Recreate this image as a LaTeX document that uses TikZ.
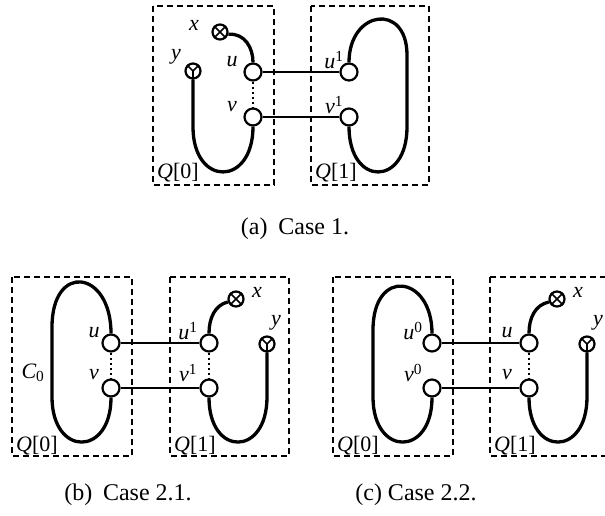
\documentclass[tikz,border=0pt]{standalone}
\usepackage{fontspec}
\setmainfont{Liberation Serif}
\begin{document}
\begin{tikzpicture}[x=1pt,y=-1pt,
  vtx/.style={circle, draw, line width=2.2pt, fill=white, minimum size=17pt, inner sep=0pt},
  term/.style={circle, draw, line width=2.2pt, fill=white, minimum size=15pt, inner sep=0pt},
  lbl/.style={font=\fontsize{22}{26}\selectfont\itshape, inner sep=0pt},
  captext/.style={font=\fontsize{24}{28}\selectfont, inner sep=0pt},
  edgeline/.style={line width=3.3pt},
  link/.style={line width=2.8pt},
  qbox/.style={line width=1.7pt, dash pattern=on 6pt off 4pt},
  dotline/.style={line width=2.4pt, dash pattern=on 2pt off 3pt},
  cross/.style={line width=1.6pt}]
\useasboundingbox (0,0) rectangle (605,515);
\clip (0,0) rectangle (605,515);

% ---------------- (a) ----------------
\draw[qbox] (153,6) rectangle (274,185);
\draw[qbox] (311,6) rectangle (429,185);
\node[vtx] (au) at (253,72) {};
\node[vtx] (av) at (253,117) {};
\node[vtx] (au1) at (349,72) {};
\node[vtx] (av1) at (349,117) {};
\node[term] (ax) at (220,32) {};
\node[term] (ay) at (193,71) {};
\draw[cross] (ax.45) -- (ax.225) (ax.135) -- (ax.315);
\draw[cross] (ay.135) -- (ay.center) -- (ay.45) (ay.center) -- (ay.south);
\draw[edgeline] (ax.-15) .. controls (245,33) and (253,48) .. (au.north);
\draw[edgeline] (ay.south) -- (193,127) .. controls (193,187) and (253,187) .. (av.south);
\draw[edgeline] (au1.north) .. controls (349,10) and (407,2) .. (407,55) -- (407,127)
   .. controls (407,187) and (349,187) .. (av1.south);
\draw[link] (au) -- (au1);
\draw[link] (av) -- (av1);
\draw[dotline] (au.south) -- (av.north);
\node[lbl] (axl) at (194,25) {x};
\node[lbl] (ayl) at (176,57) {y};
\node[lbl] (aul) at (232,62) {u};
\node[lbl] (avl) at (232,107) {v};
\node[lbl] (au1l) at (334,60) {u\textsuperscript{\upshape 1}};
\node[lbl] (av1l) at (334,105) {v\textsuperscript{\upshape 1}};
\node[lbl] (aq0) at (178,173) {Q\upshape[0]};
\node[lbl] (aq1) at (336,173) {Q\upshape[1]};
\node[captext] (acap) at (295,229) {(a)\hspace{0.45em}Case 1.};

% ---------------- (b) ----------------
\draw[qbox] (12,277) rectangle (132,456);
\draw[qbox] (170,277) rectangle (289,456);
\node[vtx] (bu) at (111,343) {};
\node[vtx] (bv) at (111,388) {};
\node[vtx] (bu1) at (209,343) {};
\node[vtx] (bv1) at (209,388) {};
\node[term] (bx) at (236,299) {};
\node[term] (by) at (267,344) {};
\draw[cross] (bx.45) -- (bx.225) (bx.135) -- (bx.315);
\draw[cross] (by.135) -- (by.center) -- (by.45) (by.center) -- (by.south);
\draw[edgeline] (bu.north) .. controls (111,270) and (52,262) .. (52,327) -- (52,397)
   .. controls (52,457) and (111,457) .. (bv.south);
\draw[edgeline] (bx.200) .. controls (215,305) and (209,318) .. (bu1.north);
\draw[edgeline] (by.south) -- (267,397) .. controls (267,457) and (209,457) .. (bv1.south);
\draw[link] (bu) -- (bu1);
\draw[link] (bv) -- (bv1);
\draw[dotline] (bu.south) -- (bv.north);
\draw[dotline] (bu1.south) -- (bv1.north);
\node[lbl] (bxl) at (257,292) {x};
\node[lbl] (byl) at (276,323) {y};
\node[lbl] (bul) at (94,333) {u};
\node[lbl] (bvl) at (94,375) {v};
\node[lbl] (bu1l) at (188,331) {u\textsuperscript{\upshape 1}};
\node[lbl] (bv1l) at (188,373) {v\textsuperscript{\upshape 1}};
\node[lbl] (bc0) at (33,373) {C\textsubscript{\upshape 0}};
\node[lbl] (bq0) at (37,446) {Q\upshape[0]};
\node[lbl] (bq1) at (195,446) {Q\upshape[1]};
\node[captext] (bcap) at (128,495) {(b)\hspace{0.45em}Case 2.1.};

% ---------------- (c) ----------------
\draw[qbox] (333,277) rectangle (453,456);
\draw[qbox] (490,277) rectangle (609,456);
\node[vtx] (cu0) at (432,343) {};
\node[vtx] (cv0) at (432,388) {};
\node[vtx] (cu) at (529,343) {};
\node[vtx] (cv) at (529,388) {};
\node[term] (cx) at (557,299) {};
\node[term] (cy) at (587,344) {};
\draw[cross] (cx.45) -- (cx.225) (cx.135) -- (cx.315);
\draw[cross] (cy.135) -- (cy.center) -- (cy.45) (cy.center) -- (cy.south);
\draw[edgeline] (cu0.north) .. controls (432,275) and (373,267) .. (373,330) -- (373,397)
   .. controls (373,457) and (432,457) .. (cv0.south);
\draw[edgeline] (cx.200) .. controls (535,305) and (529,318) .. (cu.north);
\draw[edgeline] (cy.south) -- (587,397) .. controls (587,457) and (529,457) .. (cv.south);
\draw[link] (cu0) -- (cu);
\draw[link] (cv0) -- (cv);
\draw[dotline] (cu.south) -- (cv.north);
\node[lbl] (cxl) at (578,292) {x};
\node[lbl] (cyl) at (598,323) {y};
\node[lbl] (cu0l) at (413,331) {u\textsuperscript{\upshape 0}};
\node[lbl] (cv0l) at (413,373) {v\textsuperscript{\upshape 0}};
\node[lbl] (cul) at (507,333) {u};
\node[lbl] (cvl) at (507,375) {v};
\node[lbl] (cq0) at (358,446) {Q\upshape[0]};
\node[lbl] (cq1) at (515,446) {Q\upshape[1]};
\node[captext] (ccap) at (416,495) {(c) Case 2.2.};
\end{tikzpicture}
\end{document}
